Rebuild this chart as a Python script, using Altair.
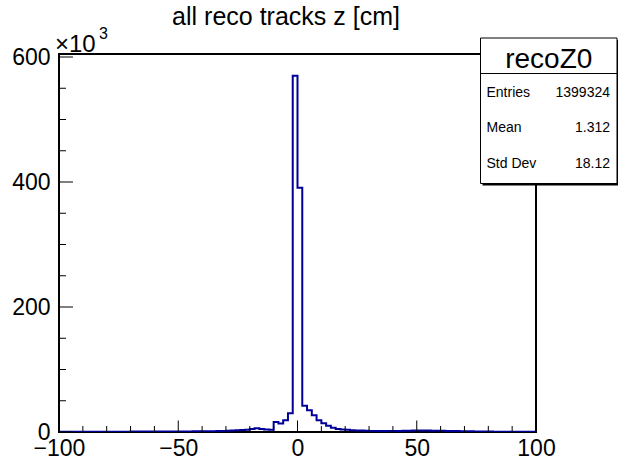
import altair as alt
import pandas as pd

# ---- data (counts in units of 10^3), 100 bins of width 2 cm from -100 to 100 ----
bin_width = 2
x_min, x_max = -100, 100
neg_counts = [
    0.4, 0.4, 0.4, 0.4, 0.4, 0.5, 0.5, 0.5, 0.5, 0.5,      # -100 .. -82
    0.5, 0.6, 0.6, 0.6, 0.6, 0.7, 0.7, 0.7, 0.7, 0.8,      # -80 .. -62
    0.8, 0.8, 0.9, 0.9, 0.9, 1.0, 1.0, 1.0, 1.1, 1.1,      # -60 .. -42
    1.2, 1.3, 1.4, 1.6, 1.8, 2.0, 2.4, 2.8, 3.2, 3.8,      # -40 .. -22
    5.0, 6.0, 5.0, 4.0, 3.5, 16.0, 13.5, 19.0, 30.0, 570.0 # -20 .. -2
]
pos_counts = [
    391.0, 42.0, 35.0, 27.0, 19.0, 14.0, 10.0, 7.0, 5.0, 4.0,  # 0 .. 18
    3.5, 3.0, 2.6, 2.3, 2.0, 1.8, 1.7, 1.6, 1.6, 1.6,          # 20 .. 38
    1.7, 1.8, 2.0, 2.2, 2.4, 2.5, 2.4, 2.3, 2.2, 2.0,          # 40 .. 58
    1.9, 1.8, 1.6, 1.5, 1.3, 1.2, 1.1, 1.0, 0.9, 0.8,          # 60 .. 78
    0.7, 0.6, 0.6, 0.5, 0.5, 0.5, 0.4, 0.4, 0.4, 0.4,          # 80 .. 98
]
counts = neg_counts + pos_counts

x_major = [-100, -50, 0, 50, 100]
x_minor = [-90, -80, -70, -60, -40, -30, -20, -10, 10, 20, 30, 40, 60, 70, 80, 90]
y_major = [0, 200, 400, 600]
y_minor = [50, 100, 150, 250, 300, 350, 450, 500, 550]

title_text = "all reco tracks z [cm]"
stats_name = "recoZ0"
stats_labels = ["Entries", "Mean", "Std Dev"]
stats_values = ["1399324", "1.312", "18.12"]

# ---- layout ----
W, H = 477, 378
FONT = "Liberation Sans"
LINE = "#000099"

edges = [x_min + bin_width * i for i in range(len(counts) + 1)]
hist = pd.DataFrame({"x": edges, "y": counts + [counts[-1]]})

xs = alt.Scale(domain=[x_min, x_max], nice=False, zero=False)
ys = alt.Scale(domain=[0, 604.8], nice=False, zero=True)

x_axis = alt.Axis(values=x_major, ticks=False, tickSize=0, domain=False, grid=False,
                  labelFont=FONT, labelFontSize=23, labelColor="black",
                  labelPadding=5, labelFlush=False, title=None, format="d")
y_axis = alt.Axis(values=y_major, ticks=False, tickSize=0, domain=False, grid=False,
                  labelFont=FONT, labelFontSize=23, labelColor="black",
                  labelPadding=9, title=None, format="d")

line = alt.Chart(hist).mark_line(interpolate="step-after", color=LINE,
                                 strokeWidth=2, clip=True).encode(
    x=alt.X("x:Q", scale=xs, axis=x_axis),
    y=alt.Y("y:Q", scale=ys, axis=y_axis),
)

def vticks(vals, length):
    return alt.Chart(pd.DataFrame({"y": vals})).mark_rule(color="black", strokeWidth=1).encode(
        y=alt.Y("y:Q", scale=ys, axis=y_axis), x=alt.value(0), x2=alt.value(length))

def hticks(vals, length):
    return alt.Chart(pd.DataFrame({"x": vals})).mark_rule(color="black", strokeWidth=1).encode(
        x=alt.X("x:Q", scale=xs, axis=x_axis), y=alt.value(H), y2=alt.value(H - length))

one = pd.DataFrame({"a": [0]})

def text(t, x, y, size, align="left", baseline="alphabetic"):
    return alt.Chart(one).mark_text(text=t, font=FONT, fontSize=size, align=align,
                                    baseline=baseline, color="black").encode(
        x=alt.value(x), y=alt.value(y))

# stats box
bx0, bx1, by0, by1 = 421.5, 558, -16, 129.5
shadow = alt.Chart(one).mark_rect(color="black").encode(
    x=alt.value(bx0 + 2), x2=alt.value(bx1 + 2), y=alt.value(by0 + 2), y2=alt.value(by1 + 2))
box = alt.Chart(one).mark_rect(fill="white", stroke="black", strokeWidth=1).encode(
    x=alt.value(bx0), x2=alt.value(bx1), y=alt.value(by0), y2=alt.value(by1))
sep = alt.Chart(one).mark_rule(color="black", strokeWidth=1).encode(
    x=alt.value(bx0), x2=alt.value(bx1), y=alt.value(19.5))

layers = [line, vticks(y_major, 14), vticks(y_minor, 7), hticks(x_major, 11.5), hticks(x_minor, 6),
          text(title_text, 227, -29, 25, align="center"),
          text("×10", -4, -2, 24),
          text("3", 40, -15, 16),
          shadow, box, sep,
          text(stats_name, (bx0 + bx1) / 2, 13.5, 28, align="center")]
row_y = [42.5, 77.5, 114]
for lab, val, yy in zip(stats_labels, stats_values, row_y):
    layers.append(text(lab, bx0 + 6, yy, 14))
    layers.append(text(val, bx1 - 7, yy, 14, align="right"))

chart = alt.layer(*layers).properties(
    width=W, height=H,
    autosize=alt.AutoSizeParams(type="none"),
    padding={"left": 59, "top": 54, "right": 618 - 59 - W, "bottom": 461 - 54 - H},
    background="white",
).configure_view(stroke="black", strokeWidth=2)

chart.save("out.html", embed_options={"renderer": "svg", "actions": False})
